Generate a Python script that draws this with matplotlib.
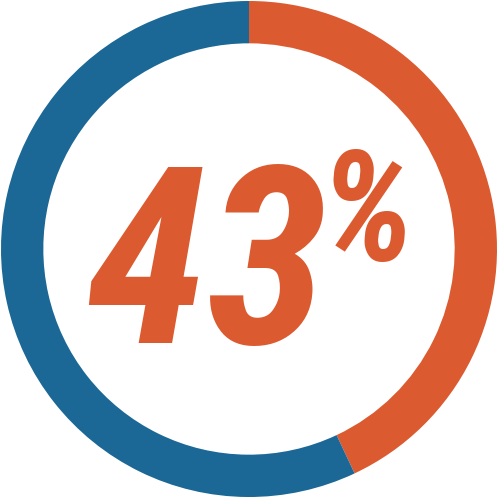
import matplotlib
matplotlib.use("Agg")
import matplotlib.pyplot as plt

shares = [43, 57]
colors = ["#DC5A2F", "#1B6795"]
label_num = "43"
label_pct = "%"

fig = plt.figure(figsize=(4.98, 4.98), dpi=100)
ax = fig.add_axes([0, 0, 1, 1])
ax.pie(shares, colors=colors, startangle=90, counterclock=False,
       radius=0.996, wedgeprops=dict(width=0.17, linewidth=0))
ax.set_xlim(-1, 1)
ax.set_ylim(-1, 1)
ax.set_aspect("equal")
ax.axis("off")

fam = ["Roboto Condensed", "Roboto"]
ax.text(-0.17, -0.105, label_num, color=colors[0], fontsize=178, family=fam,
        weight="bold", style="italic", ha="center", va="center")
ax.text(0.475, 0.125, label_pct, color=colors[0], fontsize=110, family=fam,
        weight="bold", style="italic", ha="center", va="center")

fig.savefig("out.png", dpi=100)
